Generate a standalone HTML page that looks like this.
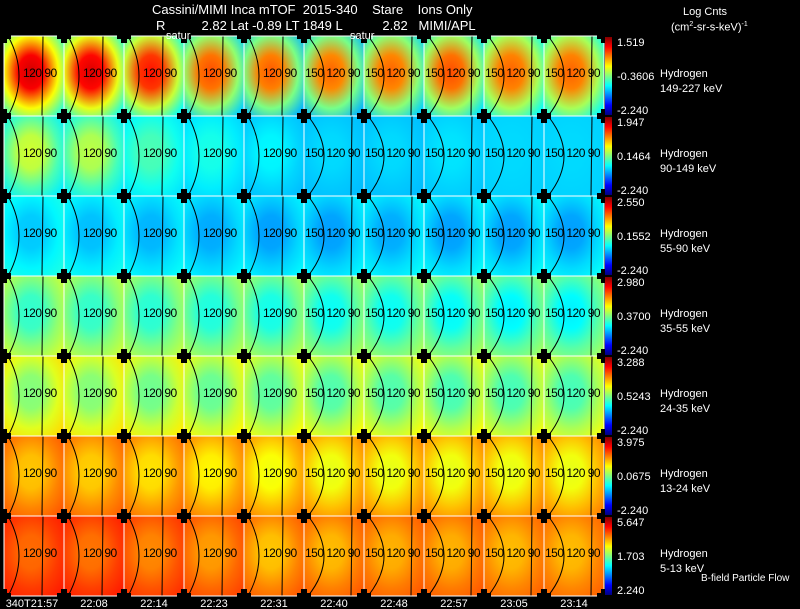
<!DOCTYPE html>
<html><head><meta charset="utf-8"><style>
html,body{margin:0;padding:0;background:#000;}
#wrap{position:relative;width:800px;height:609px;overflow:hidden;background:#000;font-family:"Liberation Sans",sans-serif;color:#fff;}
.t{position:absolute;font-size:12px;white-space:nowrap;line-height:12px;}
</style></head><body>
<div id="wrap">
<svg id="svg" width="800" height="609" style="position:absolute;left:0;top:0"></svg>
<div class="t" style="left:152px;top:4px;font-size:13px">Cassini/MIMI Inca mTOF&nbsp; 2015-340&nbsp;&nbsp;&nbsp; Stare&nbsp;&nbsp;&nbsp; Ions Only</div>
<div class="t" style="left:156px;top:20px;font-size:13px">R&nbsp;&nbsp;&nbsp;&nbsp;&nbsp;&nbsp;&nbsp;&nbsp;&nbsp; 2.82 Lat -0.89 LT 1849 L&nbsp;&nbsp;&nbsp;&nbsp;&nbsp;&nbsp;&nbsp;&nbsp;&nbsp;&nbsp; 2.82&nbsp;&nbsp; MIMI/APL</div>
<div class="t" style="left:166px;top:30px;font-size:11px">satur</div>
<div class="t" style="left:350px;top:30px;font-size:11px">satur</div>
<div class="t" style="left:683px;top:6px;font-size:11px">Log Cnts</div>
<div class="t" style="left:671px;top:19px;font-size:11px">(cm<sup style="font-size:7px">2</sup>-sr-s-keV)<sup style="font-size:7px">-1</sup></div>
<div class="t" style="left:701px;top:573px;font-size:10px">B-field Particle Flow</div>
</div>
<script>
const rowsLabels=["149-227 keV","90-149 keV","55-90 keV","35-55 keV","24-35 keV","13-24 keV","5-13 keV"];
const cbTop=["1.519","1.947","2.550","2.980","3.288","3.975","5.647"];
const cbMid=["-0.3606","0.1464","0.1552","0.3700","0.5243","0.0675","1.703"];
const cbBot=["-2.240","-2.240","-2.240","-2.240","-2.240","-2.240","2.240"];
const timeLabels=["340T21:57","22:08","22:14","22:23","22:31","22:40","22:48","22:57","23:05","23:14"];
const centerVals=[
 [0.92,0.91,0.86,0.80,0.79,0.78,0.78,0.80,0.78,0.78],
 [0.58,0.56,0.45,0.40,0.37,0.34,0.34,0.35,0.34,0.34],
 [0.32,0.31,0.30,0.29,0.28,0.28,0.29,0.28,0.28,0.28],
 [0.42,0.42,0.41,0.40,0.39,0.38,0.38,0.37,0.36,0.36],
 [0.50,0.50,0.48,0.47,0.46,0.45,0.45,0.44,0.44,0.44],
 [0.68,0.67,0.65,0.63,0.61,0.60,0.60,0.60,0.60,0.60],
 [0.77,0.76,0.74,0.72,0.68,0.69,0.70,0.70,0.69,0.69]];
const edgeVals=[
 [0.42,0.40,0.38,0.33,0.30,0.30,0.33,0.35,0.38,0.38],
 [0.36,0.36,0.35,0.33,0.31,0.31,0.31,0.32,0.33,0.33],
 [0.40,0.39,0.38,0.37,0.37,0.37,0.38,0.38,0.38,0.38],
 [0.58,0.57,0.56,0.55,0.55,0.54,0.54,0.54,0.53,0.53],
 [0.66,0.65,0.64,0.63,0.62,0.62,0.62,0.62,0.61,0.61],
 [0.79,0.78,0.77,0.76,0.75,0.75,0.75,0.75,0.75,0.75],
 [0.85,0.85,0.83,0.81,0.79,0.79,0.79,0.79,0.78,0.78]];
function jet(v){v=Math.max(0,Math.min(1,v));
 const r=Math.min(1,Math.max(0,1.5-Math.abs(4*v-3)));
 const g=Math.min(1,Math.max(0,1.5-Math.abs(4*v-2)));
 const b=Math.min(1,Math.max(0,1.5-Math.abs(4*v-1)));
 return `rgb(${Math.round(r*255)},${Math.round(g*255)},${Math.round(b*255)})`;}
const NS="http://www.w3.org/2000/svg";
const svg=document.getElementById('svg');
function mk(tag,attrs,parent){const e=document.createElementNS(NS,tag);for(const k in attrs)e.setAttribute(k,attrs[k]);(parent||svg).appendChild(e);return e;}
const X0=4,Y0=36,CW=60,RH=80;
const xPos=c=>X0+c*CW, yPos=r=>Y0+r*RH;
const defs=mk('defs',{});
for(let r=0;r<centerVals.length;r++){
 for(let c=0;c<centerVals[r].length;c++){
  const id=`g${r}_${c}`;
  const cv=centerVals[r][c],ev=edgeVals[r][c];
  const g=mk('radialGradient',{id:id,cx:'0.45',cy:'0.45',r:'0.7'},defs);
  mk('stop',{offset:'0',  'stop-color':jet(cv)},g);
  mk('stop',{offset:'0.3','stop-color':jet(cv*0.92+ev*0.08)},g);
  mk('stop',{offset:'0.65','stop-color':jet(cv*0.4+ev*0.6)},g);
  mk('stop',{offset:'1','stop-color':jet(ev)},g);
  const x=xPos(c),y=yPos(r);
  const rect=mk('rect',{x:x,y:y,width:CW,height:RH,fill:`url(#${id})`});
  
  
  const later=c>=5;
  const ax=later?x+36:x+26;
  const arc=mk('path',{d:`M${x+4},${y} Q${ax},${y+RH/2} ${x+4},${y+RH}`,fill:'none',stroke:'#000','stroke-width':1});
  
  
  const vl=mk('line',{x1:x+(later?48:39),y1:y,x2:x+(later?47:38),y2:y+RH,stroke:'#000','stroke-width':1});
  
  
  const lbl=mk('text',{x:later?x+1:x+19,y:y+RH*0.45+5,'font-size':12,'font-family':'Liberation Sans, sans-serif',fill:'#000','letter-spacing':'-0.5'});
  lbl.textContent=later?'150 120 90':'120 90';
  
  
 }
}
for(let c=0;c<=10;c++){const l=mk('line',{x1:xPos(c),y1:Y0,x2:xPos(c),y2:Y0+7*RH,stroke:'#fff','stroke-width':1});
 }
for(let r=0;r<=7;r++){const l=mk('line',{x1:X0,y1:yPos(r),x2:X0+10*CW,y2:yPos(r),stroke:'#fff','stroke-width':1});
 }
for(let r=0;r<=7;r++)for(let c=0;c<=10;c++){
 const x=xPos(c),y=yPos(r);
 const h=mk('rect',{x:x-7,y:y-3,width:14,height:6,fill:'#000'});
 
 const v=mk('rect',{x:x-3,y:y-7,width:6,height:14,fill:'#000'});
 
}
const cg=mk('linearGradient',{id:'cbg',x1:0,y1:1,x2:0,y2:0},defs);
for(let i=0;i<=8;i++)mk('stop',{offset:i/8,'stop-color':jet(i/8)},cg);
for(let r=0;r<7;r++){
 const y=yPos(r);
 const cb=mk('rect',{x:605,y:y+1,width:7,height:RH-2,fill:'url(#cbg)'});
 
 const tx=(t,yy,name)=>{const e=mk('text',{x:617,y:yy,'font-size':11,'font-family':'Liberation Sans, sans-serif',fill:'#fff'});e.textContent=t;
  };
 tx(cbTop[r],y+10,'colorbar-max');tx(cbMid[r],y+44,'colorbar-mid');tx(cbBot[r],y+78,'colorbar-min');
 const s=mk('text',{x:660,y:y+41,'font-size':11,'font-family':'Liberation Sans, sans-serif',fill:'#fff'});s.textContent='Hydrogen';
 
 const e=mk('text',{x:660,y:y+56,'font-size':11,'font-family':'Liberation Sans, sans-serif',fill:'#fff'});e.textContent=rowsLabels[r];
 
}
for(let c=0;c<timeLabels.length;c++){
 const t=mk('text',{x:c===0?X0+CW/2-2:xPos(c)+CW/2,y:607,'text-anchor':'middle','font-size':11,'font-family':'Liberation Sans, sans-serif',fill:'#fff'});
 t.textContent=timeLabels[c];
 
}
</script>
</body></html>
